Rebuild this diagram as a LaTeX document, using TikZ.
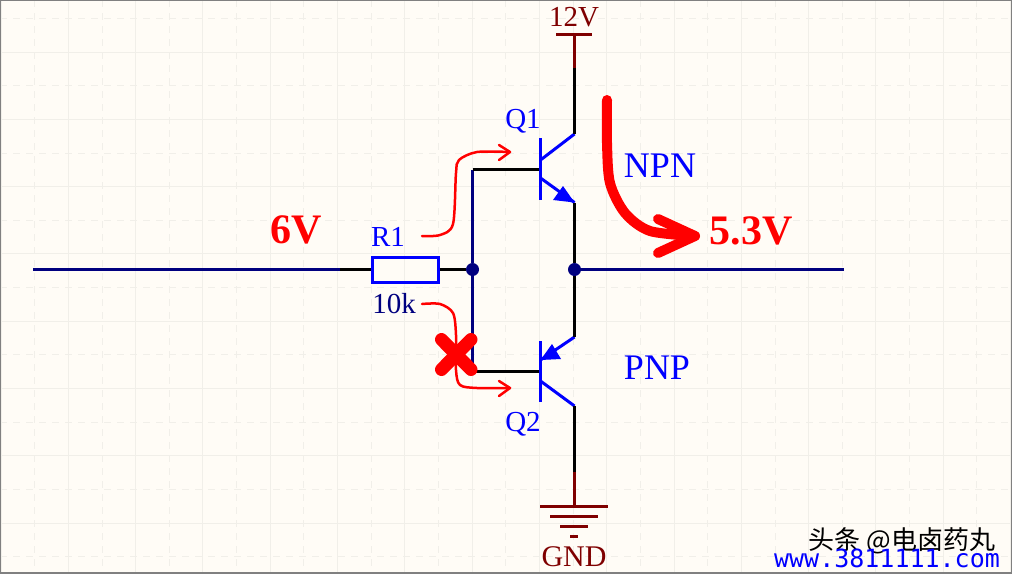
\documentclass[tikz,border=0pt]{standalone}
\usepackage{fontspec}
\setmainfont{Liberation Serif}
\newfontfamily\cjkfont{Noto Sans CJK SC}
\newfontfamily\wwwfont{DejaVu Sans Mono}
\definecolor{sheetbg}{HTML}{FFFCF6}
\definecolor{gridline}{HTML}{F1EFE9}
\definecolor{netblue}{HTML}{00007F}
\definecolor{partblue}{HTML}{0000FF}
\definecolor{powerred}{HTML}{7F0000}
\tikzset{wire/.style={draw=black,line width=3pt},
netwire/.style={draw=netblue,line width=3pt},
partline/.style={draw=partblue,line width=3pt},
powerline/.style={draw=powerred,line width=3pt},
junction/.style={draw=none,fill=netblue,circle,minimum size=13pt,inner sep=0pt},
mylabel/.style={inner sep=0pt,font=\fontsize{29}{29}\selectfont},
partlabel/.style={mylabel,text=partblue},
typelabel/.style={inner sep=0pt,text=partblue,font=\fontsize{36}{36}\selectfont},
voltlabel/.style={inner sep=0pt,text=red,font=\fontsize{42}{42}\selectfont\bfseries},
thincurve/.style={draw=red,line width=2.5pt,line join=round,line cap=round},
fatcurve/.style={draw=red,line width=10pt,line join=round,line cap=round},
griddash/.style={gridline,line width=1pt,dash pattern=on 7pt off 6pt}}

\begin{document}
\begin{tikzpicture}[x=1pt,y=-1pt]
\useasboundingbox (0,0) rectangle (1012,573);
\fill[sheetbg] (0,0) rectangle (1012,573);
% sheet grid
\foreach \i in {1,68.3,135.6,202.9,270.2,337.5,404.8,472.1,539.4,606.7,674,741.3,808.6,875.9,943.2,1010.5}
    \draw[gridline,line width=1pt] (\i,0) -- (\i,573);
\foreach \i in {34.6,102,169.3,236.6,303.9,371.2,438.5,505.8,573.1,640.4,707.7,775,842.3,909.6,976.9}
    \draw[griddash] (\i,0) -- (\i,573);
\foreach \j in {52,119.3,186.6,253.9,321.2,388.5,455.8,523.1}
    \draw[gridline,line width=1pt] (0,\j) -- (1012,\j);
\foreach \j in {18.4,85.7,153,220.3,287.6,354.9,422.2,489.5,556.8}
    \draw[griddash] (0,\j) -- (1012,\j);
\draw[gray,line width=2pt] (0,0) rectangle (1012,573);
% input, R1 and the two junctions
\coordinate (in) at (33,269.5);
\coordinate (instub) at (340,269.5);
\coordinate (out) at (844,269.5);
\node[draw=partblue,line width=3pt,minimum width=66pt,minimum height=25pt,inner sep=0pt] (r1) at (405,269.5) {};
\node[junction] (jbase) at (472.5,269.5) {};
\node[junction] (jemit) at (574.5,269.5) {};
\draw[netwire] (in) -- (instub);
\draw[wire] (instub) -- (r1.west);
\draw[wire] (r1.east) -- (jbase);
\draw[netwire] (jemit) -- (out);
% Q1
\coordinate (q1base) at (472.5,169.5);
\coordinate (q1bar) at (540.5,169.5);
\coordinate (q1top) at (540.5,138);
\coordinate (q1bot) at (540.5,200);
\coordinate (q1cin) at (540.5,160);
\coordinate (q1c) at (574.5,134);
\coordinate (q1ein) at (540.5,178);
\coordinate (q1e) at (574.5,202.5);
\draw[netwire] (jbase) -- (q1base);
\draw[wire] (q1base) -- (q1bar);
\draw[partline] (q1top) -- (q1bot);
\draw[partline] (q1cin) -- (q1c);
\draw[partline] (q1ein) -- (q1e);
\fill[partblue] (q1e) -- (563,186) -- (553,200) -- cycle;
% Q2
\coordinate (q2base) at (472.5,371);
\coordinate (q2bar) at (540.5,371);
\coordinate (q2top) at (540.5,341);
\coordinate (q2bot) at (540.5,402);
\coordinate (q2ein) at (574.5,337);
\coordinate (q2e) at (540.5,360);
\coordinate (q2cin) at (540.5,381);
\coordinate (q2c) at (574.5,406);
\draw[netwire] (jbase) -- (q2base);
\draw[wire] (q2base) -- (q2bar);
\draw[partline] (q2top) -- (q2bot);
\draw[partline] (q2ein) -- (q2e);
\draw[partline] (q2cin) -- (q2c);
\fill[partblue] (q2e) -- (552,344) -- (561,359) -- cycle;
% rails
\coordinate (vcc) at (574.5,34);
\coordinate (vccend) at (574.5,68);
\coordinate (gnd) at (574.5,506);
\coordinate (gndend) at (574.5,472);
\draw[wire] (vccend) -- (q1c);
\draw[wire] (q1e) -- (jemit);
\draw[wire] (jemit) -- (q2ein);
\draw[wire] (q2c) -- (gndend);
\draw[powerline] (vcc) -- (vccend);
\draw[powerline] (gndend) -- (gnd);
\draw[powerline] (556,34) -- (592,34);
\draw[powerline] (540,506) -- (608,506);
\draw[powerline] (550,516) -- (598,516);
\draw[powerline] (560,526) -- (588,526);
\draw[powerline] (570,536) -- (578,536);
% labels
\node[mylabel,text=powerred] (lblvcc) at (574,17) {12V};
\node[mylabel,text=powerred,font=\fontsize{30}{30}\selectfont] (lblgnd) at (574,557) {GND};
\node[partlabel] (lblr1) at (388,237) {R1};
\node[mylabel,text=netblue] (lblrval) at (394,304) {10k};
\node[partlabel] (lblq1) at (523,121) {Q1};
\node[partlabel] (lblq2) at (523,424) {Q2};
\node[typelabel] (lblnpn) at (660,166) {NPN};
\node[typelabel] (lblpnp) at (657,368) {PNP};
\node[voltlabel] (lblin) at (296,230) {6V};
\node[voltlabel] (lblout) at (751,231) {5.3V};
% red current paths and the cross
\draw[thincurve] plot[smooth,tension=.5] coordinates {(422,236) (440,235) (453,224) (456,173) (459,160) (477,152) (510,152)};
\draw[thincurve] (499,145) -- (510,152) -- (499,160);
\draw[thincurve] plot[smooth,tension=.5] coordinates {(422,304) (440,304) (453,313) (456,335) (456,370) (460,385) (477,388) (510,388)};
\draw[thincurve] (499,381) -- (510,388) -- (499,396);
\draw[red,line width=13pt,line cap=round] (441.5,339.5) -- (471,369.5);
\draw[red,line width=13pt,line cap=round] (471,339.5) -- (441.5,369.5);
\draw[fatcurve] plot[smooth,tension=.5] coordinates {(607,100) (607,143) (610,183) (625,213) (650,231) (695,236)};
\draw[fatcurve] (658,219) -- (695,236) -- (658,253);
% watermark
\node[inner sep=0pt,font=\cjkfont\fontsize{26}{26}\selectfont] (mark) at (902,541) {头条 @电卤药丸};
\node[inner sep=0pt,text=partblue,font=\wwwfont\fontsize{25}{25}\selectfont] (site) at (887,558) {www.3811111.com};
\end{tikzpicture}
\end{document}
